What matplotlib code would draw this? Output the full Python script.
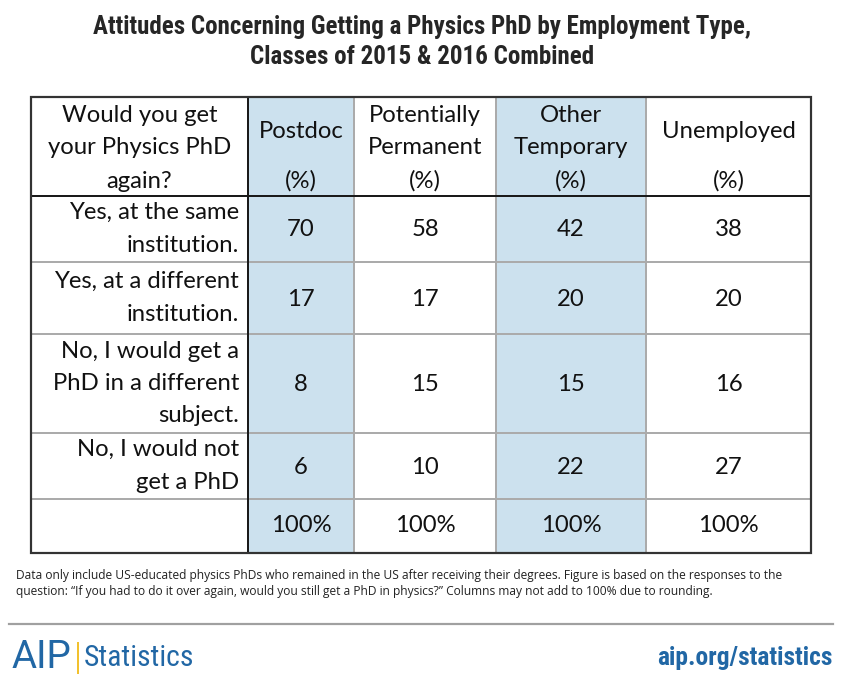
import matplotlib
matplotlib.use("Agg")
import matplotlib.pyplot as plt
from matplotlib.patches import Rectangle

# ---- data ----
row_header = ["Would you get", "your Physics PhD", "again?"]
categories = ["Postdoc", "Potentially Permanent", "Other Temporary", "Unemployed"]
responses = [
    ["Yes, at the same", "institution."],
    ["Yes, at a different", "institution."],
    ["No, I would get a", "PhD in a different", "subject."],
    ["No, I would not", "get a PhD"],
]
postdoc = [70, 17, 8, 6]
potentially_permanent = [58, 17, 15, 10]
other_temporary = [42, 20, 15, 22]
unemployed = [38, 20, 16, 27]
totals = ["100%", "100%", "100%", "100%"]
shaded = [True, False, True, False]

title_lines = ["Attitudes Concerning Getting a Physics PhD by Employment Type,",
               "Classes of 2015 & 2016 Combined"]
footnote = ["Data only include US-educated physics PhDs who remained in the US after receiving their degrees. Figure is based on the responses to the",
            "question: \u201cIf you had to do it over again, would you still get a PhD in physics?\u201d Columns may not add to 100% due to rounding."]

values = [postdoc, potentially_permanent, other_temporary, unemployed]

W, H = 842, 678
fig = plt.figure(figsize=(W / 100, H / 100), dpi=100)
ax = fig.add_axes([0, 0, 1, 1])
ax.set_xlim(0, W)
ax.set_ylim(H, 0)
ax.axis("off")

renderer = fig.canvas.get_renderer()
PX = 0.72  # points per pixel

def fit(t, target):
    bb = t.get_window_extent(renderer=renderer)
    t.set_fontsize(t.get_fontsize() * target / bb.width)

TABLE_FONT = ["Lato", "DejaVu Sans"]
TITLE_FONT = ["Liberation Sans Narrow", "Roboto Condensed", "Roboto", "DejaVu Sans"]
BLUE = "#2167A5"

# ---- title ----
t1 = ax.text(W / 2 + 1, 27, title_lines[0], ha="center", va="center",
             fontsize=20, family=TITLE_FONT, fontweight="bold", color="#262626")
fit(t1, 658)
t2 = ax.text(W / 2 + 1, 57, title_lines[1], ha="center", va="center",
             fontsize=t1.get_fontsize(), family=TITLE_FONT, fontweight="bold", color="#262626")

# ---- table geometry ----
col_edges = [31, 248, 354, 496, 646, 811]
row_edges = [97, 196, 262, 334, 433, 499, 553]

# shading
for j, sh in enumerate(shaded):
    if sh:
        ax.add_patch(Rectangle((col_edges[j + 1], row_edges[0]),
                               col_edges[j + 2] - col_edges[j + 1],
                               row_edges[-1] - row_edges[0],
                               facecolor="#CCE1EE", edgecolor="none", zorder=1))

grey = "#ABABAB"
for y in row_edges[2:-1]:
    ax.plot([col_edges[0], col_edges[-1]], [y, y], color=grey, lw=2 * PX, zorder=2)
for x in col_edges[2:-1]:
    ax.plot([x, x], [row_edges[0], row_edges[-1]], color=grey, lw=2 * PX, zorder=2)
ax.plot([col_edges[0], col_edges[-1]], [row_edges[1], row_edges[1]], color="#1a1a1a", lw=2 * PX, zorder=3)
ax.plot([col_edges[1], col_edges[1]], [row_edges[0], row_edges[-1]], color="#1a1a1a", lw=2 * PX, zorder=3)
ax.add_patch(Rectangle((col_edges[0], row_edges[0]), col_edges[-1] - col_edges[0],
                       row_edges[-1] - row_edges[0], facecolor="none",
                       edgecolor="#333333", lw=2.2 * PX, zorder=4))

# font size of table text fitted on widest header line
probe = ax.text(0, -100, row_header[1], fontsize=18, family=TABLE_FONT)
fit(probe, 183)
FS = probe.get_fontsize()
probe.remove()
TC = "#111111"

def tx(x, y, s, ha="center"):
    ax.text(x, y, s, ha=ha, va="center", fontsize=FS, family=TABLE_FONT, color=TC, zorder=5)

line_y = [115, 148, 181]
col0_c = (col_edges[0] + col_edges[1]) / 2
for s, y in zip(row_header, line_y):
    tx(col0_c, y, s)

centers = [(col_edges[j + 1] + col_edges[j + 2]) / 2 for j in range(4)]
for c, cat in zip(centers, categories):
    words = cat.split(" ")
    if len(words) == 1:
        tx(c, 131, words[0])
    else:
        tx(c, 115, words[0])
        tx(c, 148, words[1])
    tx(c, 181, "(%)")

LINE = 32.5
for i, lines in enumerate(responses):
    top, bot = row_edges[i + 1], row_edges[i + 2]
    mid = (top + bot) / 2
    n = len(lines)
    for k, s in enumerate(lines):
        tx(col_edges[1] - 9, mid + (k - (n - 1) / 2) * LINE, s, ha="right")
    for j in range(4):
        tx(centers[j], mid + 1, str(values[j][i]))

for j in range(4):
    tx(centers[j], (row_edges[-2] + row_edges[-1]) / 2, totals[j])

# ---- footnote ----
f1 = ax.text(16, 576, footnote[0], ha="left", va="center", fontsize=9,
             family=["Open Sans", "DejaVu Sans"], color="#222222")
fit(f1, 776)
ax.text(16, 591, footnote[1], ha="left", va="center", fontsize=f1.get_fontsize(),
        family=["Open Sans", "DejaVu Sans"], color="#222222")

# ---- bottom rule & branding ----
ax.plot([9, 833], [624, 624], color="#A0A0A0", lw=2.2 * PX)
aip = ax.text(12, 657, "AIP", ha="left", va="center", fontsize=20,
              family=["Roboto", "DejaVu Sans"], color=BLUE)
fit(aip, 60)
ax.plot([77.5, 77.5], [643, 673], color="#F2C12E", lw=2 * PX)
st = ax.text(84, 658, "Statistics", ha="left", va="center", fontsize=20,
             family=TITLE_FONT, color=BLUE)
fit(st, 110)
url = ax.text(832, 658, "aip.org/statistics", ha="right", va="center", fontsize=20,
              family=TITLE_FONT, fontweight="bold", color=BLUE)
fit(url, 175)

fig.savefig("out.png", dpi=100)
